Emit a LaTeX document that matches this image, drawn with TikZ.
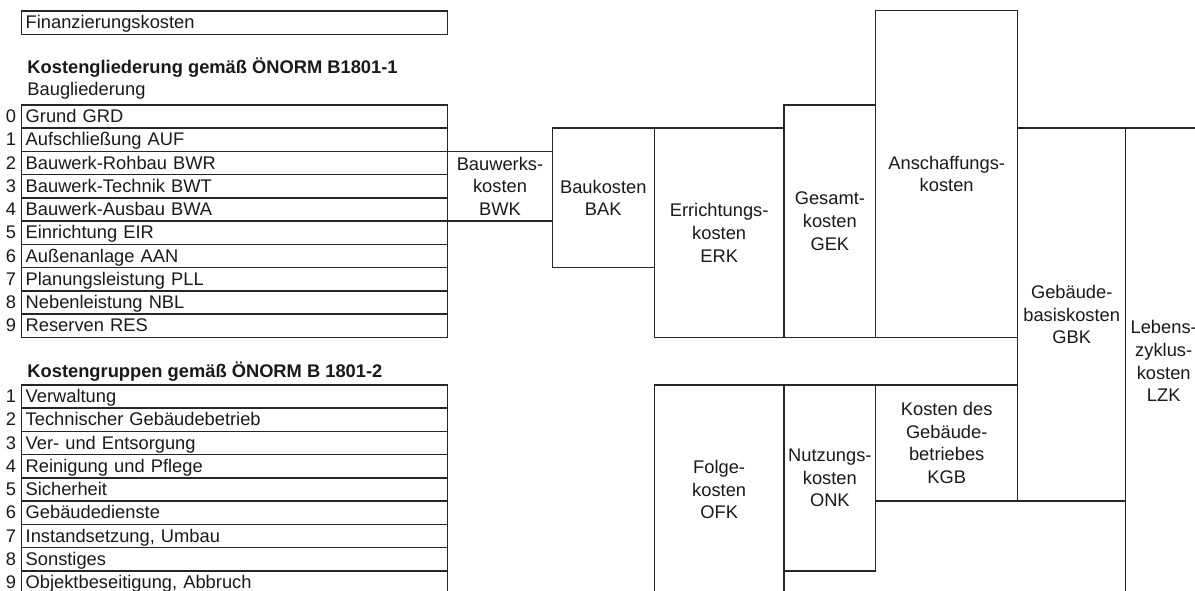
\documentclass[tikz,border=0pt]{standalone}
\usepackage{fontspec}
\setmainfont{Liberation Sans}
\begin{document}
\begin{tikzpicture}[x=1pt,y=-1pt, line width=1.5pt,
  every node/.style={font=\fontsize{18.3}{22.7}\selectfont, text=black!90},
  box/.style={draw=black!85, inner sep=0pt, outer sep=0pt, align=center, anchor=north west},
  row/.style={draw=black!85, anchor=north west, outer sep=0pt, minimum width=426pt, minimum height=23.23pt, text width=418pt, inner xsep=4pt, inner ysep=0pt, text height=12.5pt, text depth=0.5pt, align=left},
  num/.style={anchor=east, inner xsep=5pt, inner ysep=0pt, text height=12.5pt, text depth=0.5pt},
  head/.style={anchor=base west, inner sep=0pt}]
\useasboundingbox (0,0) rectangle (1195,590);
\clip (0,0) rectangle (1195,590);

% Finanzierungskosten
\node[row, minimum height=23.3pt] (fin) at (21.7,11) {Finanzierungskosten};

% headings
\node[head, font=\fontsize{18.3}{22.7}\selectfont\bfseries] (h1) at (26.7,73.7) {Kostengliederung gemäß ÖNORM B1801-1};
\node[head] (h1b) at (26.7,95.7) {Baugliederung};

% table 1
\node[row] (a0) at (21.7,105.00) {Grund GRD};
\node[row] (a1) at (21.7,128.23) {Aufschließung AUF};
\node[row] (a2) at (21.7,151.46) {Bauwerk-Rohbau BWR};
\node[row] (a3) at (21.7,174.69) {Bauwerk-Technik BWT};
\node[row] (a4) at (21.7,197.92) {Bauwerk-Ausbau BWA};
\node[row] (a5) at (21.7,221.15) {Einrichtung EIR};
\node[row] (a6) at (21.7,244.38) {Außenanlage AAN};
\node[row] (a7) at (21.7,267.61) {Planungsleistung PLL};
\node[row] (a8) at (21.7,290.84) {Nebenleistung NBL};
\node[row] (a9) at (21.7,314.07) {Reserven RES};
\foreach \i in {0,...,9} { \node[num] (an\i) at (a\i.west) {\i}; }

% heading 2
\node[head, font=\fontsize{18.3}{22.7}\selectfont\bfseries] (h2) at (26.7,377.3) {Kostengruppen gemäß ÖNORM B 1801-2};

% table 2
\node[row] (b1) at (21.7,385.00) {Verwaltung};
\node[row] (b2) at (21.7,408.23) {Technischer Gebäudebetrieb};
\node[row] (b3) at (21.7,431.46) {Ver- und Entsorgung};
\node[row] (b4) at (21.7,454.69) {Reinigung und Pflege};
\node[row] (b5) at (21.7,477.92) {Sicherheit};
\node[row] (b6) at (21.7,501.15) {Gebäudedienste};
\node[row] (b7) at (21.7,524.38) {Instandsetzung, Umbau};
\node[row] (b8) at (21.7,547.61) {Sonstiges};
\node[row] (b9) at (21.7,570.84) {Objektbeseitigung, Abbruch};
\foreach \i in {1,...,9} { \node[num] (bn\i) at (b\i.west) {\i}; }

% cost blocks
\node[box, minimum width=104.6pt, minimum height=69.7pt] (bwk) at (447.7,151.46) {Bauwerks-\\kosten\\BWK};
\node[box, minimum width=102pt, minimum height=139.4pt] (bak) at (552.3,128.23) {Baukosten\\BAK};
\node[box, minimum width=129.7pt, minimum height=209.1pt] (erk) at (654.3,128.23) {Errichtungs-\\kosten\\ERK};
\node[box, minimum width=91.7pt, minimum height=232.3pt] (gek) at (784,105) {Gesamt-\\kosten\\GEK};
\node[box, minimum width=142pt, minimum height=326.6pt] (ans) at (875.7,10.7) {Anschaffungs-\\kosten};
\node[box, minimum width=108pt, minimum height=372.9pt] (gbk) at (1017.7,128.23) {Gebäude-\\basiskosten\\GBK};
\node[box, minimum width=76pt, minimum height=466pt] (lzk) at (1125.7,128.23) {Lebens-\\zyklus-\\kosten\\LZK};
\node[box, minimum width=129.7pt, minimum height=209.3pt] (ofk) at (654.3,385) {Folge-\\kosten\\OFK};
\node[box, minimum width=91.7pt, minimum height=185.8pt] (onk) at (784,385) {Nutzungs-\\kosten\\ONK};
\node[box, minimum width=142pt, minimum height=116.1pt] (kgb) at (875.7,385) {Kosten des\\Gebäude-\\betriebes\\KGB};
\end{tikzpicture}
\end{document}
